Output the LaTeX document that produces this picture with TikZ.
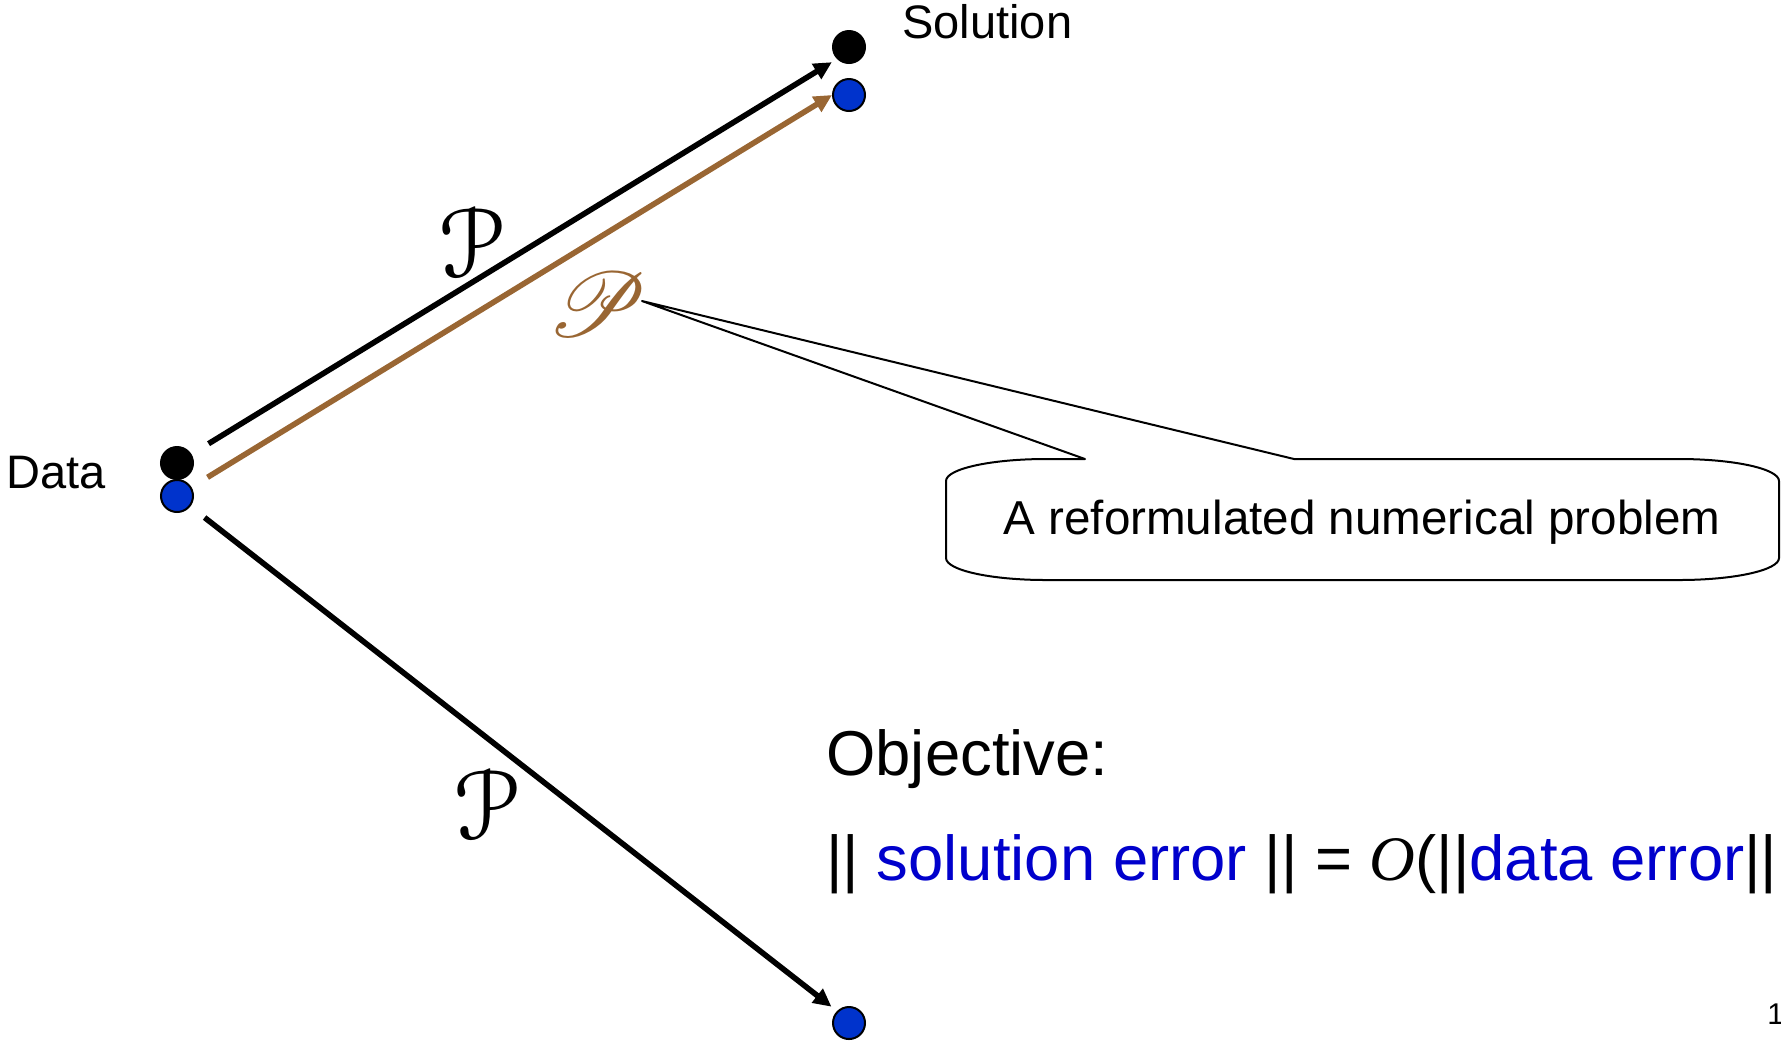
\RequirePackage{fix-cm}
\documentclass[tikz,border=0pt]{standalone}
\usepackage{fontspec}
\setmainfont{Liberation Sans}
\newfontfamily\timesfam{Liberation Serif}
\usepackage{mathrsfs}
\usepackage{graphicx}
\usetikzlibrary{arrows.meta}
\DeclareMathAlphabet{\mathEus}{U}{eus}{m}{n}
\definecolor{dotblue}{RGB}{0,51,204}
\definecolor{txtblue}{RGB}{0,0,204}
\definecolor{brownline}{RGB}{153,102,51}
\tikzset{
  dotnode/.style={circle,draw=black,line width=1pt,minimum size=16pt,inner sep=0pt},
  arrowline/.style={line width=2.8pt,-{Triangle[length=9pt,width=8.5pt]}},
  lbl/.style={anchor=base west,inner sep=0pt,font=\fontsize{23.5}{28}\selectfont},
  bigtxt/.style={anchor=base west,inner sep=0pt,font=\fontsize{31.7}{38}\selectfont},
  calloutline/.style={draw=black,line width=1pt,line join=round}
}
\begin{document}
\begin{tikzpicture}[x=0.5pt,y=-0.5pt]
\useasboundingbox (0,0) rectangle (1781,1041);
% dots
\node[dotnode,fill=black] (datab) at (177,463) {};
\node[dotnode,fill=dotblue] (datau) at (177,496) {};
\node[dotnode,fill=black] (solb) at (849,47) {};
\node[dotnode,fill=dotblue] (solu) at (849,95) {};
\node[dotnode,fill=dotblue] (botu) at (849,1023) {};
% labels
\node[lbl] (datalbl) at (6,488) {Data};
\node[lbl] (sollbl) at (902,38) {Solution};
% arrows
\draw[arrowline] (datab) -- (solb.south west) [shorten <=10pt, shorten >=3pt];
\draw[arrowline,draw=brownline,-{Triangle[length=9pt,width=8.5pt,fill=brownline]}] (datau) -- (solu.west) [shorten <=9.4pt, shorten >=0pt];
\draw[arrowline] (datau) -- (botu.north west) [shorten <=9pt, shorten >=3.5pt];
% script P labels
\node[inner sep=0pt] (p1) at (471,242) {\resizebox{!}{35pt}{$\mathEus{P}$}};
\node[inner sep=0pt] (p3) at (486,804) {\resizebox{!}{35pt}{$\mathEus{P}$}};
\node[inner sep=0pt,text=brownline] (p2) at (598,304) {\resizebox{!}{32pt}{$\mathscr{P}$}};
% callout
\coordinate (tip) at (642,301);
\draw[calloutline] (1085,459) -- (tip) -- (1294,459) -- (1679,459)
  arc[start angle=-90,end angle=0,x radius=100,y radius=22] -- (1779,558)
  arc[start angle=0,end angle=90,x radius=100,y radius=22] -- (1046,580)
  arc[start angle=90,end angle=180,x radius=100,y radius=22] -- (946,481)
  arc[start angle=180,end angle=270,x radius=100,y radius=22] -- cycle;
\node[inner sep=0pt,anchor=base,font=\fontsize{23.8}{28}\selectfont] (calltxt) at (1362,534) {A reformulated numerical problem};
% objective
\node[bigtxt] (obj) at (826,775) {Objective:};
\node[bigtxt] (eq) at (826,880) {|| \textcolor{txtblue}{solution error} || = {\timesfam\itshape O}(||\textcolor{txtblue}{data error}||};
% page number
\node[anchor=base west,inner sep=0pt,font=\fontsize{15}{18}\selectfont] (pgnum) at (1767,1024) {1};
\end{tikzpicture}
\end{document}
